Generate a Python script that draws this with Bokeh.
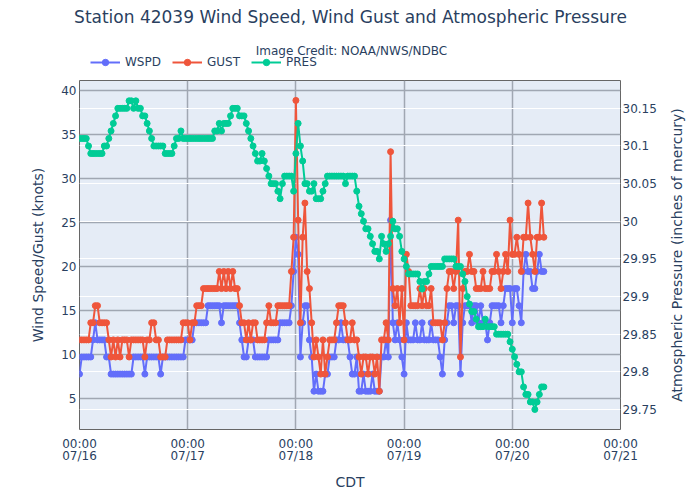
import math
import pandas as pd
from bokeh.plotting import figure
from bokeh.layouts import column, row
from bokeh.models import (ColumnDataSource, LinearAxis, Range1d, FixedTicker,
                          DatetimeTickFormatter, CustomJSTickFormatter, Grid,
                          Legend, LegendItem, Label)
from bokeh.embed import file_html
from bokeh.resources import INLINE

# Station 42039, half-hourly observations starting 07/16 00:00 CDT.
# Wind values are reported in m/s and shown in knots.
KNOTS_PER_MS = 1.94384

wspd_ms = [
    4, 5, 5, 5, 5, 5, 6, 7, 6, 6, 6, 6,
    5, 5, 4, 4, 4, 4, 4, 4, 4, 4, 4, 4,
    5, 5, 5, 5, 5, 4, 5, 5, 5, 5, 5, 5,
    4, 5, 5, 5, 5, 5, 5, 5, 5, 5, 5, 6,
    6, 6, 6, 7, 7, 7, 7, 7, 7, 8, 8, 8,
    8, 8, 8, 7, 8, 8, 8, 8, 8, 8, 8, 7,
    6, 5, 5, 6, 6, 6, 5, 5, 5, 5, 5, 5,
    6, 6, 6, 6, 6, 7, 7, 7, 7, 7, 8, 10,
    12, 11, 5, 7, 8, 8, 6, 5, 3, 4, 3, 3,
    3, 4, 4, 5, 5, 5, 6, 6, 7, 6, 6, 6,
    5, 4, 4, 5, 3, 3, 4, 3, 3, 3, 4, 3,
    3, 3, 5, 5, 6, 5, 13, 7, 6, 7, 6, 5,
    4, 7, 6, 6, 6, 7, 6, 6, 7, 6, 6, 6,
    7, 6, 6, 6, 5, 4, 6, 7, 8, 8, 7, 8,
    8, 4, 7, 8, 8, 8, 7, 8, 8, 7, 8, 7,
    7, 6, 7, 8, 8, 8, 8, 7, 8, 9, 9, 9,
    7, 9, 9, 8, 7, 10, 11, 10, 10, 9, 9, 10,
    11, 10, 10,
]

gust_ms = [
    6, 6, 6, 6, 6, 7, 7, 8, 8, 7, 7, 7,
    7, 6, 5, 6, 5, 6, 5, 6, 6, 6, 5, 6,
    6, 6, 6, 6, 6, 5, 6, 6, 7, 7, 6, 6,
    5, 5, 5, 6, 6, 6, 6, 6, 6, 6, 7, 7,
    7, 6, 7, 7, 8, 8, 8, 9, 9, 9, 9, 9,
    9, 9, 10, 9, 10, 9, 10, 9, 10, 9, 9, 8,
    7, 7, 6, 7, 6, 7, 7, 6, 6, 6, 6, 7,
    8, 7, 7, 7, 8, 8, 8, 8, 8, 8, 10, 12,
    20, 13, 7, 12, 14, 10, 9, 7, 5, 6, 5, 4,
    6, 4, 5, 6, 6, 6, 7, 8, 8, 8, 7, 6,
    6, 7, 6, 6, 5, 4, 5, 5, 4, 5, 5, 4,
    5, 3, 6, 6, 7, 6, 17, 9, 8, 9, 7, 9,
    6, 11, 10, 8, 8, 8, 8, 9, 8, 9, 8, 8,
    9, 7, 7, 7, 7, 6, 7, 9, 10, 10, 9, 10,
    13, 5, 9, 10, 10, 11, 10, 10, 9, 9, 9, 10,
    9, 9, 9, 10, 10, 11, 10, 9, 10, 11, 10, 13,
    11, 11, 12, 11, 10, 12, 12, 14, 12, 11, 10, 12,
    12, 14, 12,
]

pres_inhg = [
    30.11, 30.11, 30.11, 30.11, 30.10, 30.09, 30.09, 30.09, 30.09, 30.09, 30.09, 30.10,
    30.10, 30.11, 30.12, 30.13, 30.14, 30.15, 30.15, 30.15, 30.15, 30.15, 30.16, 30.16,
    30.15, 30.16, 30.15, 30.15, 30.14, 30.14, 30.13, 30.12, 30.11, 30.10, 30.10, 30.10,
    30.10, 30.10, 30.09, 30.09, 30.09, 30.09, 30.10, 30.11, 30.11, 30.12, 30.11, 30.11,
    30.11, 30.11, 30.11, 30.11, 30.11, 30.11, 30.11, 30.11, 30.11, 30.11, 30.11, 30.11,
    30.12, 30.12, 30.13, 30.12, 30.13, 30.13, 30.13, 30.14, 30.15, 30.15, 30.15, 30.14,
    30.14, 30.14, 30.13, 30.12, 30.11, 30.10, 30.09, 30.08, 30.08, 30.09, 30.08, 30.07,
    30.06, 30.05, 30.05, 30.05, 30.04, 30.03, 30.05, 30.06, 30.06, 30.06, 30.06, 30.04,
    30.09, 30.13, 30.10, 30.08, 30.05, 30.05, 30.04, 30.04, 30.05, 30.03, 30.03, 30.03,
    30.04, 30.05, 30.06, 30.06, 30.06, 30.06, 30.06, 30.06, 30.06, 30.06, 30.05, 30.06,
    30.06, 30.06, 30.06, 30.04, 30.02, 30.01, 30.00, 29.99, 29.99, 29.98, 29.97, 29.96,
    29.96, 29.95, 29.98, 29.97, 29.96, 29.97, 29.98, 30.00, 29.99, 29.99, 29.98, 29.96,
    29.95, 29.94, 29.93, 29.93, 29.93, 29.93, 29.93, 29.92, 29.91, 29.92, 29.92, 29.93,
    29.94, 29.94, 29.94, 29.94, 29.94, 29.94, 29.95, 29.95, 29.95, 29.95, 29.95, 29.94,
    29.94, 29.94, 29.93, 29.92, 29.90, 29.89, 29.88, 29.88, 29.87, 29.86, 29.86, 29.86,
    29.87, 29.86, 29.86, 29.86, 29.86, 29.85, 29.85, 29.85, 29.85, 29.85, 29.85, 29.84,
    29.83, 29.82, 29.81, 29.80, 29.80, 29.78, 29.77, 29.77, 29.76, 29.76, 29.75, 29.76,
    29.77, 29.78, 29.78,
]

wind_ticks = [5, 10, 15, 20, 25, 30, 35, 40]
pres_ticks = [29.75, 29.8, 29.85, 29.9, 29.95, 30.0, 30.05, 30.1, 30.15]

start = pd.Timestamp("2024-07-16 00:00")
times = pd.date_range(start, periods=len(wspd_ms), freq="30min")
day_ticks = pd.date_range(start, periods=6, freq="D")
day_ticks_ms = [t.value / 1e6 for t in day_ticks]

src = ColumnDataSource(dict(
    t=times,
    wspd=[v * KNOTS_PER_MS for v in wspd_ms],
    gust=[v * KNOTS_PER_MS for v in gust_ms],
    pres=pres_inhg,
))

FONT = "DejaVu Sans"
TXT = "#2a3f5f"
C_WSPD, C_GUST, C_PRES = "#636efa", "#ef553b", "#00cc96"
DARK_GRID = "#a0a7b2"
SERIES = (("wspd", C_WSPD, "WSPD", "default"),
          ("gust", C_GUST, "GUST", "default"),
          ("pres", C_PRES, "PRES", "pres"))


def blank_panel(w, h):
    """A plain white figure whose frame fills it, used for header/side text."""
    f = figure(width=w, height=h, x_range=Range1d(0, w), y_range=Range1d(h, 0),
               output_backend="svg", toolbar_location=None,
               x_axis_location=None, y_axis_location=None, min_border=0)
    f.frame_align = False
    f.grid.visible = False
    f.outline_line_color = None
    f.background_fill_color = "white"
    f.border_fill_color = "white"
    return f


# ---- header strip: title, credit line and legend ----
head = blank_panel(700, 80)
head.add_layout(Label(x=350, y=16,
                      text="Station 42039 Wind Speed, Wind Gust and Atmospheric Pressure",
                      text_align="center", text_baseline="middle",
                      text_font=FONT, text_font_size="17px", text_color=TXT))
head.add_layout(Label(x=351, y=50, text="Image Credit: NOAA/NWS/NDBC",
                      text_align="center", text_baseline="middle",
                      text_font=FONT, text_font_size="12px", text_color=TXT))

# legend entries reuse the series (their points fall outside this strip)
items = []
for col, color, name, _ in SERIES:
    ln = head.line("t", col, source=src, line_color=color, line_width=2)
    sc = head.scatter("t", col, source=src, size=6, fill_color=color,
                      line_color=color)
    items.append(LegendItem(label=name, renderers=[ln, sc]))

legend = Legend(items=items, orientation="horizontal", location=(90, 10),
                background_fill_alpha=0, border_line_alpha=0,
                padding=0, margin=0, spacing=11, label_standoff=5,
                glyph_width=30, glyph_height=16, label_height=16,
                label_text_font=FONT, label_text_font_size="12px",
                label_text_color=TXT)
head.add_layout(legend)

# ---- main chart ----
p = figure(width=660, height=420, x_axis_type="datetime",
           output_backend="svg", toolbar_location=None,
           x_range=Range1d(day_ticks[0], day_ticks[-1]),
           y_range=Range1d(1.48, 41.14),
           min_border_left=79, min_border_right=40,
           min_border_top=0, min_border_bottom=71)
p.frame_align = False
p.title = None
p.background_fill_color = "#e5ecf6"
p.border_fill_color = "white"
p.outline_line_color = "#666666"
p.outline_line_width = 1

# Pressure uses its own scale on the right
p.extra_y_ranges = {"pres": Range1d(29.7234, 30.187)}

# Grids: wind and time in grey, pressure in white
p.xgrid.ticker = FixedTicker(ticks=day_ticks_ms)
p.ygrid.ticker = FixedTicker(ticks=wind_ticks)
for g in (p.xgrid, p.ygrid):
    g.grid_line_color = DARK_GRID
    g.grid_line_width = 1.5
p.add_layout(Grid(dimension=1, ticker=FixedTicker(ticks=pres_ticks),
                  y_range_name="pres", grid_line_color="white",
                  grid_line_width=1))

# Axes
xa = p.xaxis[0]
xa.ticker = FixedTicker(ticks=day_ticks_ms)
fmt = "%H:%M\n%m/%d"
xa.formatter = DatetimeTickFormatter(hours=fmt, days=fmt, months=fmt,
                                     years=fmt, strip_leading_zeros=False)
xa.axis_label = "CDT"
xa.major_label_standoff = 7
xa.axis_label_standoff = 8
xa.major_label_text_line_height = 0.88

ya = p.yaxis[0]
ya.ticker = FixedTicker(ticks=wind_ticks)
ya.axis_label = "Wind Speed/Gust (knots)"
ya.major_label_standoff = 3
ya.axis_label_standoff = 12

ra = LinearAxis(y_range_name="pres", ticker=FixedTicker(ticks=pres_ticks),
                formatter=CustomJSTickFormatter(
                    code=r"return tick.toFixed(2).replace(/0+$/, '').replace(/\.$/, '');"))
ra.major_label_standoff = 2
p.add_layout(ra, "right")

for ax in (xa, ya, ra):
    ax.axis_line_color = None
    ax.major_tick_line_color = None
    ax.minor_tick_line_color = None
    ax.major_tick_out = 0
    ax.major_tick_in = 0
    ax.minor_tick_out = 0
    ax.minor_tick_in = 0
    ax.major_label_text_font = FONT
    ax.major_label_text_font_size = "12px"
    ax.major_label_text_color = TXT
    ax.axis_label_text_font = FONT
    ax.axis_label_text_font_size = "14px"
    ax.axis_label_text_font_style = "normal"
    ax.axis_label_text_color = TXT

# Series: line plus markers, pressure drawn last (on top)
for col, color, name, yr in SERIES:
    p.line("t", col, source=src, line_color=color, line_width=2,
           y_range_name=yr)
    p.scatter("t", col, source=src, size=6, fill_color=color,
              line_color=color, y_range_name=yr)

# ---- right-hand axis title, reading upwards ----
side = blank_panel(40, 420)
side.add_layout(Label(x=16, y=174.5, angle=math.pi / 2,
                      text="Atmospheric Pressure (inches of mercury)",
                      text_align="center", text_baseline="middle",
                      text_font=FONT, text_font_size="14px", text_color=TXT))

page = column(head, row(p, side, spacing=0), spacing=0)
open("out.html", "w").write(file_html(page, INLINE))
